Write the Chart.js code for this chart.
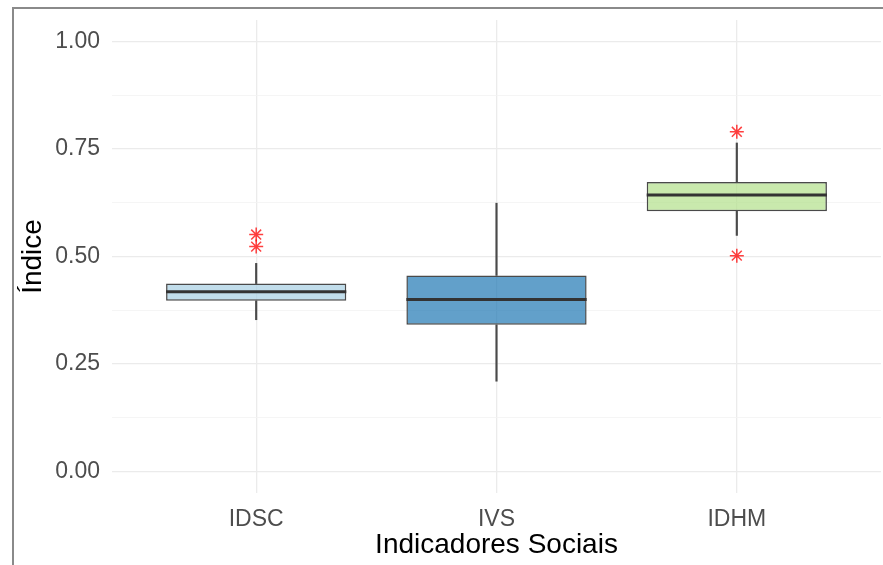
<!DOCTYPE html>
<html>
<head>
<meta charset="utf-8">
<script src="https://cdn.jsdelivr.net/npm/chart.js@4/dist/chart.umd.min.js"></script>
<style>
  html, body { margin: 0; padding: 0; background: #fff; }
  canvas { display: block; }
</style>
</head>
<body>
<canvas id="boxChart" width="883" height="565"></canvas>
<script>
// categories and five-number summaries per indicator
const categories = ["IDSC", "IVS", "IDHM"];
const whiskerLow = [0.353, 0.210, 0.549];
const q1 = [0.397, 0.341, 0.605];
const medians = [0.418, 0.400, 0.643];
const q3 = [0.437, 0.456, 0.673];
const whiskerHigh = [0.484, 0.624, 0.764];

// outliers (category, value)
const outlierCats = ["IDSC", "IDSC", "IDHM", "IDHM"];
const outlierValues = [0.551, 0.523, 0.790, 0.502];

const yTicks = [0, 0.25, 0.5, 0.75, 1];

const boxFill = ["rgba(166,206,227,0.7)", "rgba(31,120,180,0.7)", "rgba(178,223,138,0.7)"];
const edge = "#4a4a4a";

Chart.defaults.font.family = "'Liberation Sans', Arial, sans-serif";

// minor grid values halfway between the major ticks
const minorTicks = yTicks.slice(1).map((v, i) => (v + yTicks[i]) / 2);

const xs = categories.map((c, i) => i + 1);

// median line across each box
const medianPlugin = {
  id: "medians",
  afterDatasetsDraw(chart) {
    const meta = chart.getDatasetMeta(2);
    const y = chart.scales.y;
    const ctx = chart.ctx;
    ctx.save();
    ctx.strokeStyle = "#333";
    ctx.lineWidth = 3;
    meta.data.forEach((bar, i) => {
      const py = y.getPixelForValue(medians[i]);
      ctx.beginPath();
      ctx.moveTo(bar.x - bar.width / 2, py);
      ctx.lineTo(bar.x + bar.width / 2, py);
      ctx.stroke();
    });
    ctx.restore();
  }
};

// outer frame around the figure
const framePlugin = {
  id: "frame",
  beforeDraw(chart) {
    const ctx = chart.ctx;
    ctx.save();
    ctx.strokeStyle = "#8a8a8a";
    ctx.lineWidth = 2;
    ctx.beginPath();
    ctx.moveTo(13, chart.height);
    ctx.lineTo(13, 8);
    ctx.lineTo(chart.width, 8);
    ctx.stroke();
    ctx.restore();
  }
};

new Chart(document.getElementById("boxChart"), {
  type: "bar",
  data: {
    datasets: [
      {
        // lower whiskers
        data: xs.map((x, i) => ({ x: x, y: [whiskerLow[i], q1[i]] })),
        backgroundColor: edge,
        barThickness: 1.5,
        grouped: false
      },
      {
        // upper whiskers
        data: xs.map((x, i) => ({ x: x, y: [q3[i], whiskerHigh[i]] })),
        backgroundColor: edge,
        barThickness: 1.5,
        grouped: false
      },
      {
        // boxes
        data: xs.map((x, i) => ({ x: x, y: [q1[i], q3[i]] })),
        backgroundColor: boxFill,
        borderColor: edge,
        borderWidth: 1.5,
        borderSkipped: false,
        categoryPercentage: 1,
        barPercentage: 0.75,
        grouped: false
      },
      {
        type: "scatter",
        data: outlierCats.map((c, i) => ({ x: categories.indexOf(c) + 1, y: outlierValues[i] })),
        pointStyle: "star",
        pointRadius: 7,
        borderColor: "rgba(255,0,0,0.75)",
        backgroundColor: "rgba(255,0,0,0.75)",
        borderWidth: 1.5,
        showLine: false
      }
    ]
  },
  options: {
    responsive: false,
    animation: false,
    layout: { autoPadding: false, padding: { top: 20, right: 2, left: 0, bottom: 0 } },
    plugins: {
      legend: { display: false },
      tooltip: { enabled: false }
    },
    scales: {
      x: {
        type: "linear",
        min: 0.4,
        max: 3.6,
        offset: false,
        afterBuildTicks: (scale) => { scale.ticks = xs.map(v => ({ value: v })); },
        afterFit: (scale) => { scale.height = 72; },
        border: { display: false },
        grid: { color: "#ebebeb", lineWidth: 1.3, drawTicks: false, offset: false },
        ticks: {
          padding: 13,
          color: "#4d4d4d",
          font: { size: 23 },
          maxRotation: 0,
          autoSkip: false,
          callback: (v) => categories[v - 1]
        },
        title: {
          display: true,
          text: "Indicadores Sociais",
          color: "#000",
          font: { size: 28 },
          padding: { top: 0, bottom: 3 }
        }
      },
      y: {
        min: -0.05,
        max: 1.05,
        afterBuildTicks: (scale) => {
          scale.ticks = yTicks.concat(minorTicks).sort((a, b) => a - b).map(v => ({ value: v }));
        },
        afterFit: (scale) => {
          scale.width = 112;
          scale.paddingTop = 0;
          scale.paddingBottom = 0;
        },
        border: { display: false },
        grid: {
          color: (c) => yTicks.includes(c.tick.value) ? "#ebebeb" : "#f2f2f2",
          lineWidth: (c) => yTicks.includes(c.tick.value) ? 1.3 : 0.8,
          drawTicks: false
        },
        ticks: {
          padding: 12,
          color: "#4d4d4d",
          font: { size: 23 },
          callback: (v) => yTicks.includes(v) ? v.toFixed(2) : ""
        },
        title: {
          display: true,
          text: "Índice",
          color: "#000",
          font: { size: 28 },
          padding: { top: 16, bottom: 0 }
        }
      }
    }
  },
  plugins: [framePlugin, medianPlugin]
});
</script>
</body>
</html>
